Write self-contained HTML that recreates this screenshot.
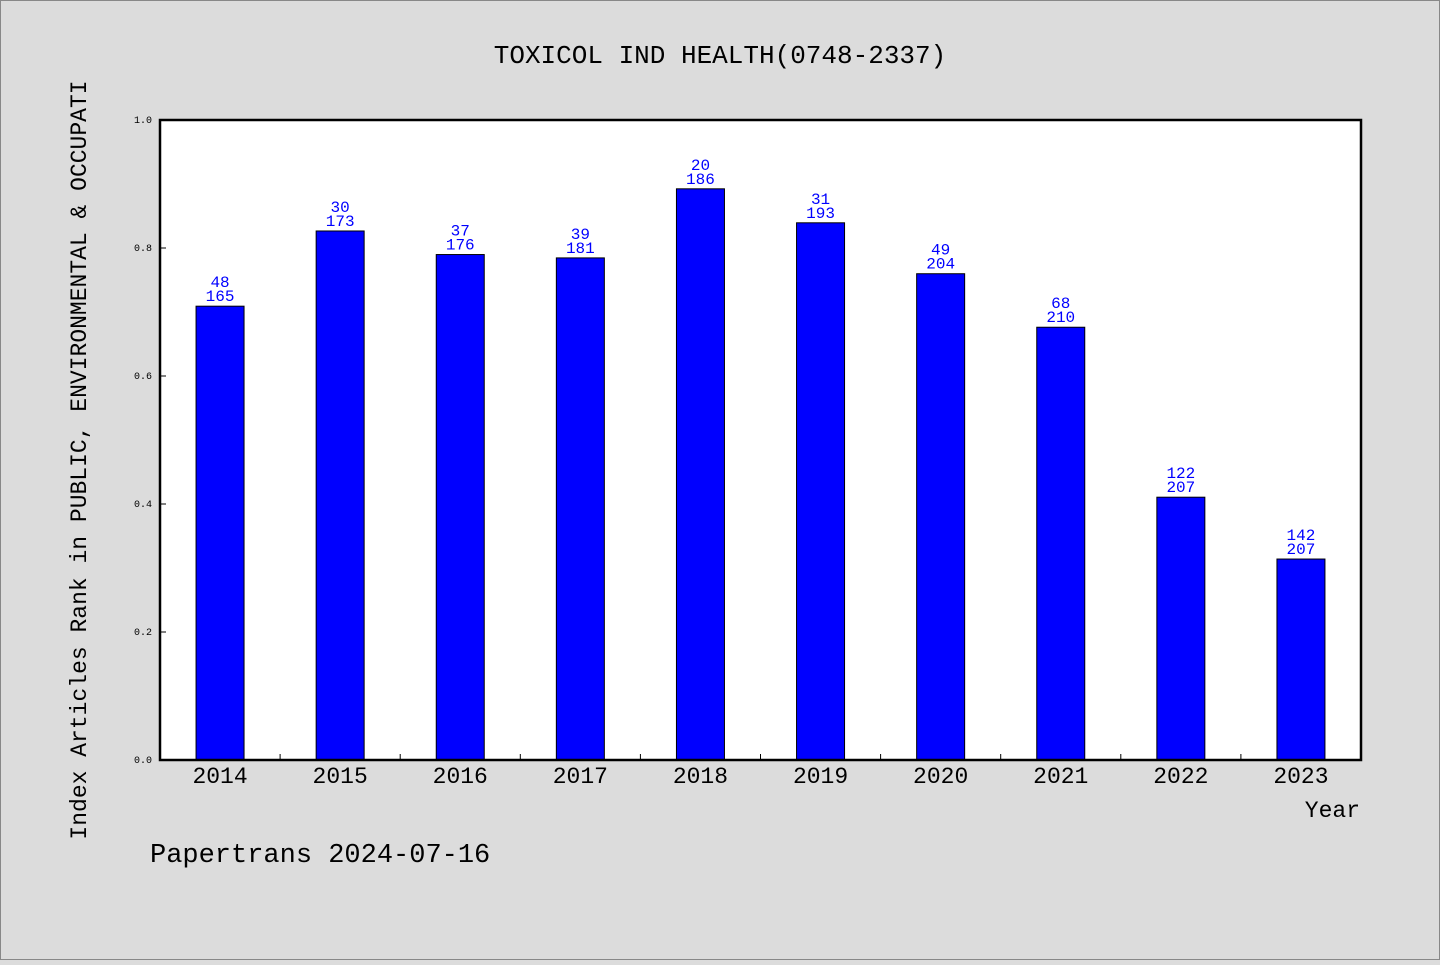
<!DOCTYPE html>
<html><head><meta charset="utf-8"><style>
body{margin:0;width:1440px;height:960px;background:#dcdcdc;overflow:hidden}
svg text{font-family:"Liberation Mono","WenQuanYi Zen Hei",monospace}
</style></head><body>
<svg width="1440" height="960">
<rect x="0.5" y="0.5" width="1439" height="959" fill="#dcdcdc" stroke="#888"/>
<text x="720" y="63" font-size="26" text-anchor="middle">TOXICOL IND HEALTH(0748-2337)</text>
<rect x="160" y="120" width="1201" height="640" fill="#fff"/>
<g id="marks"></g>
<rect x="160" y="120" width="1201" height="640" fill="none" stroke="#000" stroke-width="2.5"/>
<text transform="translate(86,460) rotate(-90)" font-size="23" text-anchor="middle">Index Articles Rank in PUBLIC, ENVIRONMENTAL &amp; OCCUPATI</text>
<text x="1360" y="817" font-size="23" text-anchor="end">Year</text>
<text x="150" y="862" font-size="27">Papertrans 2024-07-16</text>
</svg>
<script>
const years=["2014","2015","2016","2017","2018","2019","2020","2021","2022","2023"];
const ranks=[48,30,37,39,20,31,49,68,122,142];
const totals=[165,173,176,181,186,193,204,210,207,207];
const yTicks=["0.0","0.2","0.4","0.6","0.8","1.0"];
const X0=160,W=1201,Y0=760,H=640,step=W/years.length;
const xc=i=>X0+step*(i+0.5);
const y=v=>Y0-v*H;
const g=document.getElementById('marks');
const NS='http://www.w3.org/2000/svg';
function mk(t,a){const e=document.createElementNS(NS,t);for(const k in a)e.setAttribute(k,a[k]);g.appendChild(e);return e;}
yTicks.forEach(t=>{
 const v=parseFloat(t);
 const l=mk('line',{x1:X0,x2:X0+6,y1:y(v),y2:y(v),stroke:'#000'});
 
 
 const tx=mk('text',{x:X0-8,y:y(v)+3,'font-size':10,'text-anchor':'end'});
 tx.textContent=t;
 
 
});
years.forEach((yr,i)=>{
 const v=1-ranks[i]/totals[i];
 const b=mk('rect',{x:xc(i)-24,y:y(v),width:48,height:Y0-y(v),fill:'#0000ff',stroke:'#000','stroke-width':1});
 
 
 if(i>0){const t=mk('line',{x1:X0+step*i,x2:X0+step*i,y1:Y0,y2:Y0-6,stroke:'#000'});
 
 }
 const xl=mk('text',{x:xc(i),y:Y0+23,'font-size':23,'text-anchor':'middle'});
 xl.textContent=yr;
 
 
 const r=mk('text',{x:xc(i),y:y(v)-19,'font-size':16,'text-anchor':'middle',fill:'#0000ff'});
 r.textContent=ranks[i];
 
 
 const tt=mk('text',{x:xc(i),y:y(v)-5,'font-size':16,'text-anchor':'middle',fill:'#0000ff'});
 tt.textContent=totals[i];
 
 
});
</script>
</body></html>
